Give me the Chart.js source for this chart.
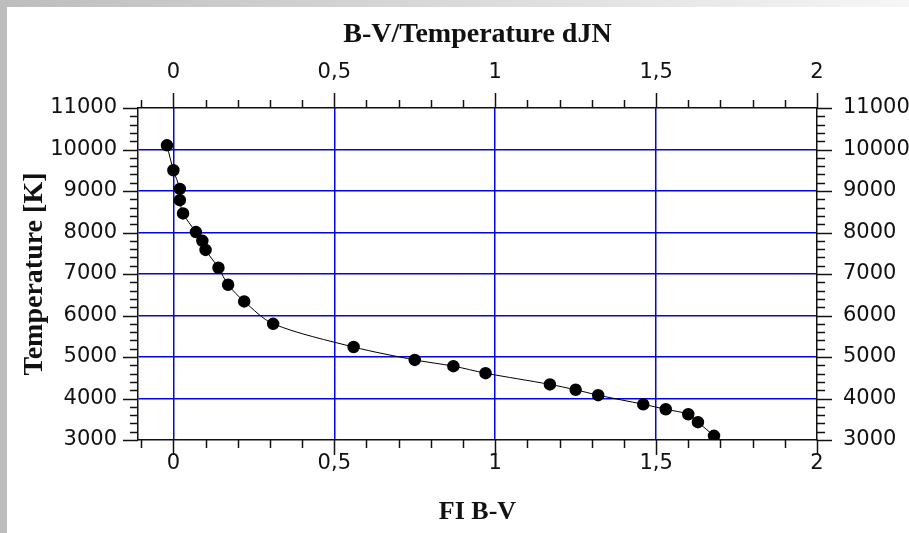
<!DOCTYPE html>
<html>
<head>
<meta charset="utf-8">
<script src="https://cdn.jsdelivr.net/npm/chart.js@4/dist/chart.umd.min.js"></script>
<style>
  body { margin: 0; }
  #wrap {
    position: relative; width: 909px; height: 533px;
    background:
      linear-gradient(#bdbdbd, #bdbdbd) 0 0 / 7px 100% no-repeat,
      linear-gradient(to right, #bdbdbd, #f6f6f6) 0 0 / 100% 7px no-repeat,
      #ffffff;
  }
  canvas { position: absolute; left: 0; top: 0; }
</style>
</head>
<body>
<div id="wrap"><canvas id="chart" width="909" height="533"></canvas></div>
<script>
// B-V colour index vs temperature
const bvIndex = [-0.02, 0.00, 0.02, 0.02, 0.03, 0.07, 0.09, 0.10, 0.14, 0.17, 0.22, 0.31,
  0.56, 0.75, 0.87, 0.97, 1.17, 1.25, 1.32, 1.46, 1.53, 1.60, 1.63, 1.68];
const temperatures = [10100, 9500, 9050, 8780, 8460, 8010, 7800, 7580, 7150, 6740, 6340, 5800,
  5240, 4930, 4780, 4610, 4340, 4210, 4080, 3860, 3740, 3620, 3430, 3100];

const xRange = [-0.11, 2];
const yRange = [3000, 11000];
const xLabelStep = 0.5;   // labelled ticks
const xMinorStep = 0.1;
const yLabelStep = 1000;
const yMinorStep = 200;

const chartTitle = "B-V/Temperature dJN";
const xTitle = "FI B-V";
const yTitle = "Temperature [K]";

const tickFont = { family: "'DejaVu Sans', Verdana, sans-serif", size: 21 };
const serif = "'Liberation Serif', 'Times New Roman', serif";
const titleFont = { family: serif, size: 28, weight: "bold" };
const xTitleFont = { family: serif, size: 26, weight: "bold" };
const gridBlue = "#0000ff";

function isMajor(v, step) {
  const r = v / step;
  return Math.abs(r - Math.round(r)) < 1e-6;
}

function fmt(v) {
  return String(Math.round(v * 100) / 100).replace(".", ",");
}

function xScale(position, title, pad, size) {
  return {
    type: "linear",
    position: position,
    min: xRange[0],
    max: xRange[1],
    ticks: {
      stepSize: xMinorStep,
      autoSkip: false,
      includeBounds: false,
      maxRotation: 0,
      padding: pad,
      color: "#111",
      font: tickFont,
      callback: (v) => (isMajor(v, xLabelStep) ? fmt(v) : ""),
    },
    grid: {
      drawTicks: false,
      drawOnChartArea: position === "bottom",
      lineWidth: 1.5,
      color: (ctx) => {
        const v = ctx.tick ? ctx.tick.value : NaN;
        return isMajor(v, xLabelStep) && v > xRange[0] && v < xRange[1] ? gridBlue : "rgba(0,0,0,0)";
      },
    },
    border: { display: true, color: "#111", width: 1.5 },
    title: title,
    afterFit: (s) => { s.height = size; },
  };
}

function yScale(position, pad, size, title) {
  return {
    type: "linear",
    position: position,
    min: yRange[0],
    max: yRange[1],
    ticks: {
      stepSize: yMinorStep,
      autoSkip: false,
      padding: pad,
      color: "#111",
      font: tickFont,
      callback: (v) => (isMajor(v, yLabelStep) ? String(v) : ""),
    },
    grid: {
      drawTicks: false,
      drawOnChartArea: position === "left",
      lineWidth: 1.5,
      color: (ctx) => {
        const v = ctx.tick ? ctx.tick.value : NaN;
        return isMajor(v, yLabelStep) && v > yRange[0] && v < yRange[1] ? gridBlue : "rgba(0,0,0,0)";
      },
    },
    border: { display: true, color: "#111", width: 1.5 },
    title: title,
    afterFit: (s) => { s.width = size; },
  };
}

// outward tick marks, long on labelled values and short otherwise
const tickMarks = {
  id: "tickMarks",
  afterDraw(chart) {
    const ctx = chart.ctx;
    ctx.save();
    ctx.strokeStyle = "#111";
    ctx.lineWidth = 1.5;
    Object.values(chart.scales).forEach((scale) => {
      const horiz = scale.isHorizontal();
      const step = horiz ? xLabelStep : yLabelStep;
      scale.ticks.forEach((t) => {
        const len = isMajor(t.value, step) ? 15 : 8;
        const p = Math.round(scale.getPixelForValue(t.value)) + 0.5;
        ctx.beginPath();
        if (scale.position === "bottom") { ctx.moveTo(p, scale.top); ctx.lineTo(p, scale.top + len); }
        if (scale.position === "top") { ctx.moveTo(p, scale.bottom); ctx.lineTo(p, scale.bottom - len); }
        if (scale.position === "left") { ctx.moveTo(scale.right, p); ctx.lineTo(scale.right - len, p); }
        if (scale.position === "right") { ctx.moveTo(scale.left, p); ctx.lineTo(scale.left + len, p); }
        ctx.stroke();
      });
    });
    ctx.restore();
  },
};

const points = bvIndex.map((x, i) => ({ x: x, y: temperatures[i] }));

new Chart(document.getElementById("chart"), {
  type: "scatter",
  data: {
    datasets: [{
      label: "dJN",
      data: points,
      showLine: true,
      tension: 0.3,
      borderColor: "#000",
      borderWidth: 1,
      backgroundColor: "#000",
      pointRadius: 5.5,
      pointBorderWidth: 1.5,
      pointBorderColor: "#000",
      xAxisID: "x",
      yAxisID: "y",
    }],
  },
  options: {
    responsive: false,
    animation: false,
    devicePixelRatio: 1,
    layout: { padding: 0 },
    plugins: { legend: { display: false }, tooltip: { enabled: false } },
    scales: {
      x: xScale("bottom", { display: true, text: xTitle, font: xTitleFont, color: "#111", padding: { top: 0, bottom: 5 } }, 11, 93),
      x2: xScale("top", { display: true, text: chartTitle, font: titleFont, color: "#111", padding: { top: 18, bottom: 0 } }, 23, 108),
      y: yScale("left", 21, 138, { display: true, text: yTitle, font: titleFont, color: "#111", padding: { top: 18, bottom: 0 } }),
      y2: yScale("right", 26, 92, { display: false }),
    },
  },
  plugins: [tickMarks],
});
</script>
</body>
</html>
